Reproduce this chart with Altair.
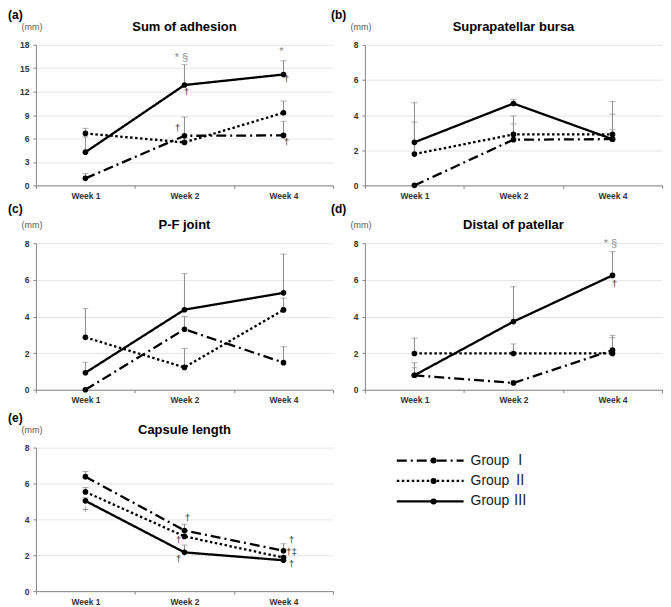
import altair as alt
import pandas as pd

weeks = ["Week 1", "Week 2", "Week 4"]
groups = ["Group Ⅰ", "Group Ⅱ", "Group Ⅲ"]

# means / upper error bar ends, rows = groups (I, II, III), cols = weeks
a_mean = [[0.9, 6.35, 6.4], [6.65, 5.5, 9.3], [4.25, 12.85, 14.2]]
a_upper = [[1.5, 8.75, 8.2], [7.3, 6.1, 10.8], [6.2, 15.45, 15.95]]

b_mean = [[0.0, 2.6, 2.63], [1.78, 2.9, 2.9], [2.45, 4.66, 2.63]]
b_upper = [[0.0, 3.5, 4.05], [3.6, 3.95, 3.17], [4.7, 4.9, 4.77]]

c_mean = [[0.0, 3.3, 1.48], [2.86, 1.22, 4.36], [0.93, 4.37, 5.29]]
c_upper = [[0.0, 4.0, 2.35], [4.43, 2.25, 5.0], [1.5, 6.34, 7.4]]

d_mean = [[0.79, 0.37, 2.16], [1.98, 1.98, 1.98], [0.79, 3.72, 6.24]]
d_upper = [[1.2, 0.51, 2.97], [2.82, 2.5, 2.84], [1.48, 5.62, 7.54]]

e_mean = [[6.38, 3.38, 2.25], [5.53, 3.05, 1.87], [5.03, 2.16, 1.72]]
e_upper = [[6.67, 3.73, 2.64], [5.77, 3.3, 2.0], [5.2, 2.57, 1.85]]

# annotations: (week, y value, text, dx px, kind)
a_notes = [("Week 2", 16.3, "* §", -3, "g"), ("Week 2", 11.95, "†", 2, "d"),
           ("Week 2", 7.36, "†", -7, "d"), ("Week 4", 17.05, "*", -2, "g"),
           ("Week 4", 13.66, "†", 3, "d"), ("Week 4", 5.57, "†", 3, "d")]
d_notes = [("Week 4", 7.93, "* §", -2, "g"), ("Week 4", 5.77, "†", 2, "d")]
e_notes = [("Week 1", 4.53, "+", 0, "g"), ("Week 2", 4.07, "†", 3, "d"),
           ("Week 2", 2.87, "†", -6, "d"), ("Week 2", 1.77, "†", -6, "d"),
           ("Week 4", 2.87, "†", 8, "d"), ("Week 4", 2.2, "†‡", 8, "d"),
           ("Week 4", 1.53, "†", 8, "d")]

FONT = "Liberation Sans, Arial, Noto Sans CJK JP, sans-serif"
ERR = "#8c8c8c"
dash_range = [[10, 4, 2, 4], [2.5, 2.5], [1, 0]]
W = 298


def make_panel(title, letter, means, uppers, ymax, step, height, letter_y, notes):
    rows = []
    for gi, g in enumerate(groups):
        for wi, w in enumerate(weeks):
            rows.append({"group": g, "week": w, "mean": means[gi][wi], "upper": uppers[gi][wi]})
    df = pd.DataFrame(rows)
    X = alt.X("week:N", sort=weeks,
              scale=alt.Scale(type="band", domain=weeks, paddingInner=0, paddingOuter=0),
              axis=alt.Axis(title=None, labelAngle=0, tickBand="extent", grid=False,
                            labelPadding=3, tickSize=3))
    ys = alt.Scale(domain=[0, ymax], nice=False, zero=True)
    yaxis = alt.Axis(values=list(range(0, ymax + 1, step)), title=None, grid=True,
                     tickSize=3, labelPadding=4, labelOverlap=False)

    def Y(field):
        return alt.Y(field, scale=ys, axis=yaxis)

    base = alt.Chart(df).encode(x=X)
    err = base.transform_filter("datum.upper > datum.mean").mark_rule(
        color=ERR, strokeWidth=1).encode(y=Y("mean:Q"), y2="upper:Q")
    cap = base.transform_filter("datum.upper > datum.mean").mark_tick(
        color=ERR, size=6, thickness=1).encode(y=Y("upper:Q"))
    line = base.mark_line(color="black", strokeWidth=2.3).encode(
        y=Y("mean:Q"),
        strokeDash=alt.StrokeDash("group:N", scale=alt.Scale(domain=groups, range=dash_range),
                                  legend=None),
        detail="group:N")
    pts = base.mark_circle(size=32, color="black", opacity=1).encode(y=Y("mean:Q"))
    layers = [err, cap, line, pts]
    for (wk, yv, txt, dx, kind) in notes:
        ndf = pd.DataFrame({"week": [wk], "y": [yv], "t": [txt]})
        layers.append(alt.Chart(ndf).mark_text(
            dx=dx, fontSize=11 if kind == "g" else 10,
            color=ERR if kind == "g" else "#333333", baseline="middle").encode(
            x=X, y=Y("y:Q"), text="t:N"))
    layers.append(alt.Chart(pd.DataFrame({"t": [letter]})).mark_text(
        align="left", baseline="top", fontSize=12, fontWeight="bold", color="black").encode(
        text="t:N", x=alt.value(-28 if letter in ("(a)", "(c)", "(e)") else -34),
        y=alt.value(letter_y)))
    layers.append(alt.Chart(pd.DataFrame({"t": ["(mm)"]})).mark_text(
        align="center", baseline="alphabetic", fontSize=9, color="#595959").encode(
        text="t:N", x=alt.value(-4), y=alt.value(-15)))
    layers.append(alt.Chart(pd.DataFrame({"t": [title]})).mark_text(
        align="center", baseline="alphabetic", fontSize=13, fontWeight="bold", color="black").encode(
        text="t:N", x=alt.value(W / 2), y=alt.value(-14)))
    return alt.layer(*layers).properties(width=W, height=height)


pa = make_panel("Sum of adhesion", "(a)", a_mean, a_upper, 18, 3, 141, -35, a_notes)
pb = make_panel("Suprapatellar bursa", "(b)", b_mean, b_upper, 8, 2, 141, -35, [])
pc = make_panel("P-F joint", "(c)", c_mean, c_upper, 8, 2, 147, -39, [])
pd_ = make_panel("Distal of patellar", "(d)", d_mean, d_upper, 8, 2, 147, -39, d_notes)
pe = make_panel("Capsule length", "(e)", e_mean, e_upper, 8, 2, 144, -35, e_notes)

# legend panel
leg_pos = [0, 1]
leg_df = pd.DataFrame({"group": [g for g in groups for _ in leg_pos],
                       "pos": leg_pos * len(groups)})
LX = alt.X("pos:Q", scale=alt.Scale(domain=[0, 1], range=[32, 99]), axis=None)
LY = alt.Y("group:N", scale=alt.Scale(domain=groups, range=[13, 54], padding=0), axis=None)
leg_lines = alt.Chart(leg_df).mark_line(color="black", strokeWidth=2.3).encode(
    x=LX, y=LY, detail="group:N",
    strokeDash=alt.StrokeDash("group:N", scale=alt.Scale(domain=groups, range=dash_range),
                              legend=None))
leg_pts = alt.Chart(pd.DataFrame({"group": groups, "pos": [0.55] * 3})).mark_circle(
    size=36, color="black", opacity=1).encode(x=LX, y=LY)
leg_txt = alt.Chart(pd.DataFrame({"group": groups, "pos": [1] * 3})).mark_text(
    align="left", baseline="middle", dx=7, fontSize=14, color="#1a1a1a").encode(
    x=LX, y=LY, text="group:N")
legend = alt.layer(leg_lines, leg_pts, leg_txt).properties(width=W, height=144)

chart = alt.concat(
    pa, pb, pc, pd_, pe, legend, columns=2, bounds="flush",
    spacing=alt.RowColnumber(row=58, column=32)
).properties(padding=0, background="white").resolve_scale(
    x="independent", y="independent"
).configure_view(stroke=None).configure_axis(
    domainColor="#868686", tickColor="#868686", gridColor="#e6e6e6",
    labelFont=FONT, labelFontSize=8.5, labelFontWeight="bold", labelColor="#333333"
).configure_text(font=FONT)

chart.save("out.html", embed_options={"renderer": "svg", "actions": False})
